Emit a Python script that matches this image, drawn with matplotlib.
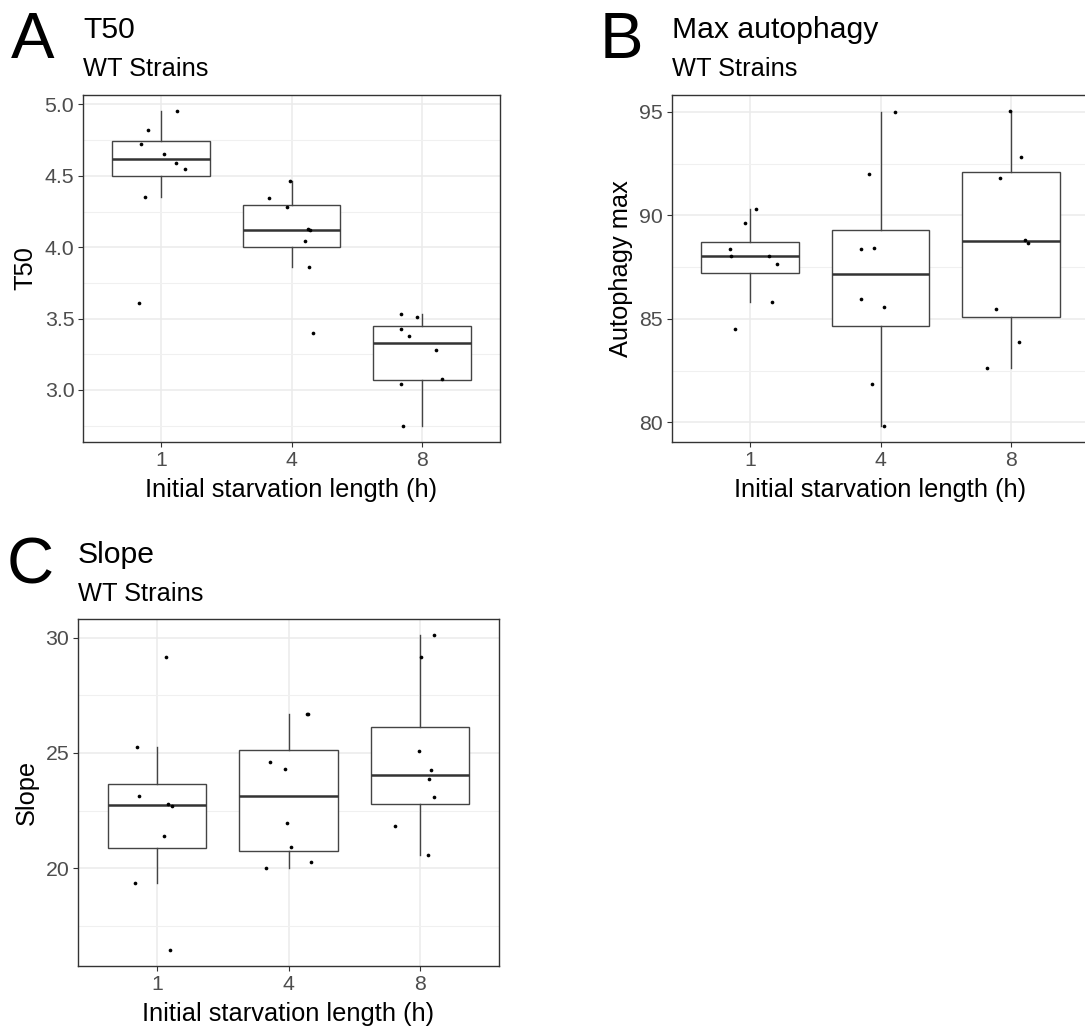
import matplotlib
matplotlib.use('Agg')
import matplotlib.pyplot as plt
from matplotlib.ticker import MultipleLocator, FormatStrFormatter
import numpy as np

plt.rcParams['font.family'] = ['Liberation Sans', 'DejaVu Sans']

# ---------------- data ----------------
starvation_labels = ['1', '4', '8']

# Panel A: T50
t50_1h = [4.956, 4.818, 4.720, 4.655, 4.587, 4.548, 4.350, 3.606]
t50_4h = [4.466, 4.343, 4.282, 4.126, 4.119, 4.047, 3.862, 3.401]
t50_8h = [3.531, 3.510, 3.424, 3.375, 3.277, 3.079, 3.040, 2.746]
t50_jit_1h = [0.118, -0.105, -0.157, 0.018, 0.110, 0.182, -0.128, -0.167]
t50_jit_4h = [-0.015, -0.172, -0.031, 0.125, 0.144, 0.100, 0.136, 0.164]
t50_jit_8h = [-0.156, -0.036, -0.162, -0.102, 0.109, 0.156, -0.156, -0.146]

# Panel B: Max autophagy
max_1h = [90.30, 89.63, 88.39, 88.02, 88.02, 87.65, 85.82, 84.49]
max_4h = [95.00, 91.98, 88.37, 88.41, 85.97, 85.57, 81.86, 79.81]
max_8h = [95.05, 92.82, 91.82, 88.79, 88.68, 85.46, 83.90, 82.60]
max_jit_1h = [0.046, -0.036, -0.157, -0.144, 0.144, 0.205, 0.170, -0.114]
max_jit_4h = [0.114, -0.089, -0.152, -0.051, -0.152, 0.028, -0.068, 0.025]
max_jit_8h = [-0.005, 0.076, -0.084, 0.106, 0.131, -0.114, 0.061, -0.182]

# Panel C: Slope
slope_1h = [29.17, 25.24, 23.13, 22.78, 22.72, 21.40, 19.36, 16.44]
slope_4h = [26.70, 26.71, 24.60, 24.31, 21.96, 20.92, 20.25, 20.01]
slope_8h = [30.13, 29.17, 25.09, 24.24, 23.85, 23.11, 21.83, 20.59]
slope_jit_1h = [0.068, -0.152, -0.139, 0.087, 0.117, 0.053, -0.167, 0.099]
slope_jit_4h = [0.139, 0.152, -0.144, -0.026, -0.015, 0.017, 0.169, -0.172]
slope_jit_8h = [0.109, 0.008, -0.008, 0.086, 0.065, 0.103, -0.190, 0.058]

# ---------------- figure ----------------
W, H = 1085, 1028
fig = plt.figure(figsize=(W / 100, H / 100), dpi=100)


def rect(l, t, r, b):
    return [l / W, 1 - b / H, (r - l) / W, (b - t) / H]


def px(x, y):
    return x / W, 1 - y / H


DARK = '#333333'
TICKC = '#4D4D4D'
LINEC = '#444444'


def panel(axrect, groups, jits, ylabel, major, minor, fmt):
    ax = fig.add_axes(axrect)
    pos = np.arange(1, len(groups) + 1)
    ax.boxplot(groups, positions=pos, widths=0.75, showfliers=False,
               showcaps=False, whis=1.5, patch_artist=True,
               boxprops=dict(facecolor='white', edgecolor=LINEC, linewidth=1.0),
               whiskerprops=dict(color=LINEC, linewidth=1.0),
               medianprops=dict(color=DARK, linewidth=1.8))
    for p, vals, jit in zip(pos, groups, jits):
        ax.scatter(p + np.array(jit), vals, s=7, color='black',
                   linewidths=0, zorder=4)
    allv = np.concatenate([np.asarray(g) for g in groups])
    lo, hi = allv.min(), allv.max()
    pad = 0.05 * (hi - lo)
    ax.set_ylim(lo - pad, hi + pad)
    ax.set_xlim(0.4, len(groups) + 0.6)
    ax.set_xticks(pos)
    ax.set_xticklabels(starvation_labels)
    ax.yaxis.set_major_locator(MultipleLocator(major))
    ax.yaxis.set_minor_locator(MultipleLocator(minor))
    ax.yaxis.set_major_formatter(FormatStrFormatter(fmt))
    ax.set_axisbelow(True)
    ax.grid(which='major', color='#EBEBEB', linewidth=1.1)
    ax.grid(which='minor', axis='y', color='#F0F0F0', linewidth=0.8)
    ax.tick_params(which='major', direction='out', length=3.8, width=0.8,
                   color=DARK, labelcolor=TICKC, labelsize=15.3, pad=2.5)
    ax.tick_params(which='minor', length=0)
    for s in ax.spines.values():
        s.set_color(DARK)
        s.set_linewidth(1.0)
    ax.set_xlabel('Initial starvation length (h)', fontsize=18.3,
                  color='black', labelpad=6)
    ax.set_ylabel(ylabel, fontsize=18.3, color='black', labelpad=5)
    return ax


axA = panel(rect(83, 95, 500, 442), [t50_1h, t50_4h, t50_8h],
            [t50_jit_1h, t50_jit_4h, t50_jit_8h], 'T50', 0.5, 0.25, '%.1f')
axB = panel(rect(672, 95, 1089, 442), [max_1h, max_4h, max_8h],
            [max_jit_1h, max_jit_4h, max_jit_8h], 'Autophagy max', 5, 2.5, '%d')
axC = panel(rect(78, 619, 499, 966), [slope_1h, slope_4h, slope_8h],
            [slope_jit_1h, slope_jit_4h, slope_jit_8h], 'Slope', 5, 2.5, '%d')

# tags, titles, subtitles
def header(tag, tagx, x, ybase, title):
    fig.text(*px(tagx, ybase + 20), tag, fontsize=47, va='baseline', ha='left')
    fig.text(*px(x, ybase), title, fontsize=21.7, va='baseline', ha='left')
    fig.text(*px(x, ybase + 38), 'WT Strains', fontsize=18.3, va='baseline',
             ha='left')


header('A', 11, 83, 38, 'T50')
header('B', 600, 672, 38, 'Max autophagy')
header('C', 7, 78, 563, 'Slope')

fig.savefig('out.png', dpi=100)
